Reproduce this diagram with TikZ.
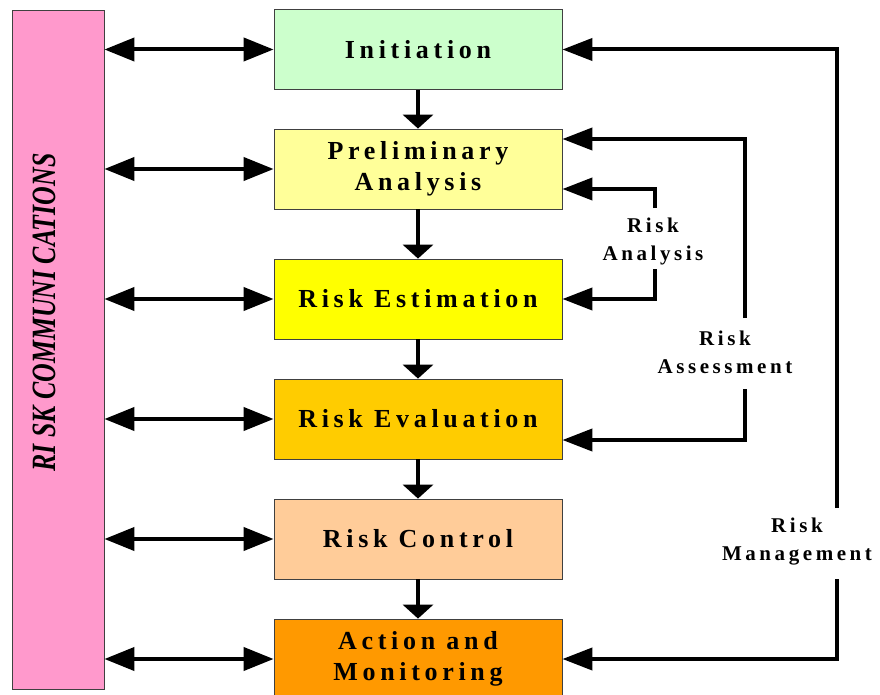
\documentclass[tikz,border=0pt]{standalone}
\usepackage{fontspec}
\setmainfont{Liberation Serif}
\newfontfamily\boxfont{Liberation Serif}[LetterSpace=18]
\newfontfamily\tagfont{Liberation Serif}[LetterSpace=17]
\newfontfamily\commfont{Liberation Serif}[FakeStretch=0.76]
\usetikzlibrary{arrows.meta}
\definecolor{commpink}{HTML}{FF99CC}
\definecolor{initgreen}{HTML}{CCFFCC}
\definecolor{prelimyellow}{HTML}{FFFF99}
\definecolor{estyellow}{HTML}{FFFF00}
\definecolor{evalgold}{HTML}{FFCC00}
\definecolor{ctrlpeach}{HTML}{FFCC99}
\definecolor{actorange}{HTML}{FF9900}
\tikzset{
	stage/.style={draw=black!75, line width=0.8pt, minimum width=288pt, minimum height=80pt, align=center, font=\boxfont\bfseries\fontsize{26}{31}\selectfont},
	tag/.style={align=center, inner sep=0pt, font=\tagfont\bfseries\fontsize{21}{28}\selectfont},
	twoway/.style={line width=4pt, {Triangle[length=30pt,width=23pt]}-{Triangle[length=30pt,width=23pt]}},
	down/.style={line width=4pt, -{Triangle[length=14pt,width=30pt]}},
	back/.style={line width=4pt, -{Triangle[length=30pt,width=22pt]}},
}
\begin{document}
\begin{tikzpicture}[x=1pt,y=-1pt]
			\useasboundingbox (0,0) rectangle (880,695);
			% communication bar
			\node	(comm) at (58,349.5) [draw=black!75, line width=0.8pt, fill=commpink, minimum width=92pt, minimum height=679pt] {};
			\node	(commtext) at (44,312.5) [rotate=90, font=\commfont\bfseries\itshape\fontsize{34}{40}\selectfont] {RI SK COMMUNI CATIONS};
			% process steps
			\node	(init) at (418,49.5) [stage, fill=initgreen] {Initiation};
			\node	(prelim) at (418,169) [stage, fill=prelimyellow] {Preliminary\\Analysis};
			\node	(est) at (418,299) [stage, fill=estyellow] {Risk Estimation};
			\node	(eval) at (418,419) [stage, fill=evalgold] {Risk Evaluation};
			\node	(ctrl) at (418,539) [stage, fill=ctrlpeach] {Risk Control};
			\node	(act) at (418,659) [stage, fill=actorange] {Action and\\Monitoring};
			% feedback labels
			\node	(anltag) at (653,241) [tag] {Risk\\Analysis};
			\node	(asstag) at (725,352) [tag] {Risk\\Assessment};
			\node	(mgttag) at (797,542) [tag] {Risk\\Management};
			\coordinate (anlT) at (655,208);
			\coordinate (anlB) at (655,269);
			\coordinate (assT) at (745,318);
			\coordinate (assB) at (745,389);
			\coordinate (mgtT) at (837,508);
			\coordinate (mgtB) at (837,579);
			\draw 
			(init) edge[down] (prelim) 
			(prelim) edge[down] (est)
			(est) edge[down] (eval)
			(eval) edge[down] (ctrl)
			(ctrl) edge[down] (act)
			;
			\draw 
			(comm.east |- init.west) edge[twoway] (init.west)
			(comm.east |- prelim.west) edge[twoway] (prelim.west)
			(comm.east |- est.west) edge[twoway] (est.west)
			(comm.east |- eval.west) edge[twoway] (eval.west)
			(comm.east |- ctrl.west) edge[twoway] (ctrl.west)
			(comm.east |- act.west) edge[twoway] (act.west)
			;
			\draw[back] (anlT) |- ([yshift=-20pt]prelim.east);
			\draw[back] (anlB) |- (est.east);
			\draw[back] (assT) |- ([yshift=30pt]prelim.east);
			\draw[back] (assB) |- ([yshift=-21pt]eval.east);
			\draw[back] (mgtT) |- (init.east);
			\draw[back] (mgtB) |- (act.east);
\end{tikzpicture}
\end{document}
